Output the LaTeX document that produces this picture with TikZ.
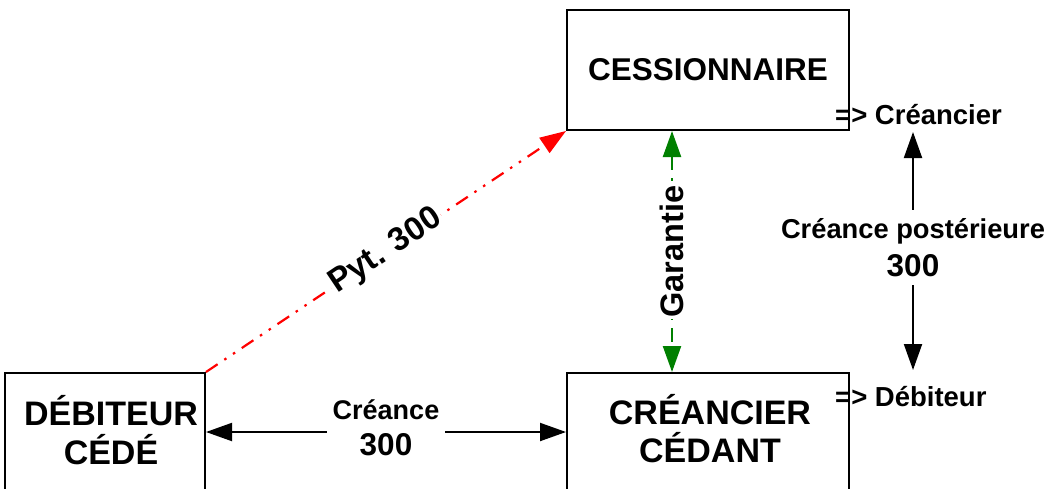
\documentclass[tikz,border=0pt]{standalone}
\usepackage{fontspec}
\setmainfont{Liberation Sans}
\usetikzlibrary{arrows.meta}
\definecolor{garantiegreen}{RGB}{0,128,0}
\newcommand\setfs[2]{\fontsize{#1}{#2}\selectfont\bfseries}
\begin{document}
\begin{tikzpicture}[x=1pt,y=-1pt,
  >={Triangle[length=26pt,width=18pt]},
  box/.style={draw=black, line width=2pt, rectangle, inner sep=0pt, minimum width=282pt},
  boxtext/.style={anchor=base, inner sep=0pt, font=\setfs{34}{39}},
  sidetext/.style={anchor=base west, inner sep=0pt, font=\setfs{27.5}{33}},
  conn/.style={line width=2pt, black},
  dashdotdot/.style={line width=2.2pt, dash pattern=on 14pt off 8pt on 2.5pt off 8pt on 2.5pt off 8pt},
  lbl/.style={fill=white, text=black, align=center}
  ]
\useasboundingbox (0,0) rectangle (1051,488);
\clip (0,0) rectangle (1051,488);

% parties
\node[box, minimum height=120pt, font=\setfs{31.5}{36}] (cess) at (708,70) {CESSIONNAIRE};
\node[box, minimum height=118pt, anchor=north] (ced) at (708,372) {};
\node[boxtext] (ced1) at (710,424) {CRÉANCIER};
\node[boxtext] (ced2) at (710,462.5) {CÉDANT};
\node[box, minimum width=200pt, minimum height=118pt, anchor=north west] (deb) at (4,372) {};
\node[boxtext] (deb1) at (111,425) {DÉBITEUR};
\node[boxtext] (deb2) at (111,464) {CÉDÉ};

% roles of the assignor
\node[sidetext] (crn) at (835,124) {=> Créancier};
\node[sidetext] (dbt) at (835,406) {=> Débiteur};

% claim between debtor and assignor
\draw[conn, <->] (deb.east) -- node[lbl, inner xsep=6pt, inner ysep=1pt, yshift=3.75pt, font=\setfs{27}{36}]
  {Créance\\{\setfs{31.5}{36}300}} (ced.west);

% later claim
\coordinate (postTop) at (913,132);
\coordinate (postBot) at (913,370);
\draw[conn, <->] (postTop) -- node[pos=0.486, lbl, inner xsep=2pt, inner ysep=8pt, font=\setfs{27.3}{38}]
  {Créance postérieure\\{\setfs{31.5}{38}300}} (postBot);

% payment to the assignee
\draw[red, dashdotdot, ->] (deb.north east) -- node[sloped, lbl, inner sep=2pt, font=\setfs{33}{38}]
  {Pyt. 300} (cess.south west);

% guarantee
\coordinate (gx) at (672,0);
\draw[garantiegreen, dashdotdot, <->] (cess.south -| gx) -- node[rotate=90, lbl, inner sep=2pt, font=\setfs{32.5}{38}]
  {Garantie} (ced.north -| gx);
\end{tikzpicture}
\end{document}
